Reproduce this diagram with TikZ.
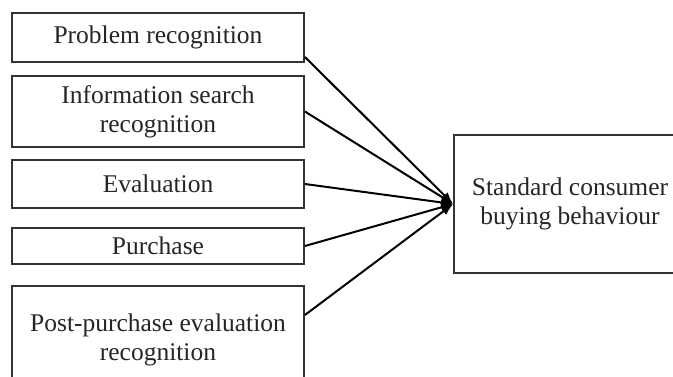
\documentclass[tikz,border=0pt]{standalone}
\usepackage{fontspec}
\setmainfont{Liberation Serif}
\usetikzlibrary{arrows.meta}
\begin{document}
\begin{tikzpicture}[x=1pt,y=-1pt,
  stage/.style={draw=black!80, line width=1.8pt, minimum width=292pt, align=center, inner sep=0pt,
    font=\fontsize{25.5}{29}\selectfont, text=black!85},
  link/.style={line width=2pt, -{Latex[length=12pt,width=9pt]}}]
\useasboundingbox (0,0) rectangle (673,376);
\clip (0,0) rectangle (673,376);
\fill[white] (0,0) rectangle (673,376);
\node[stage, minimum height=49pt] (b1) at (158,37.5) {Problem recognition};
\node[stage, minimum height=71pt] (b2) at (158,111.5) {Information search\\recognition};
\node[stage, minimum height=48pt] (b3) at (158,184) {Evaluation};
\node[stage, minimum height=36pt] (b4) at (158,246) {Purchase};
\node[stage, minimum height=108pt] (b5) at (158,340) {Post-purchase evaluation\\recognition};
\node[stage, minimum width=232pt, minimum height=138pt] (out) at (570,204) {Standard consumer\\buying behaviour};
\coordinate (s1) at ([yshift=-19.5pt]b1.east);
\coordinate (s5) at ([yshift=25pt]b5.east);
\draw[link] (s1) -- (out.west);
\draw[link] (b2.east) -- (out.west);
\draw[link] (b3.east) -- (out.west);
\draw[link] (b4.east) -- (out.west);
\draw[link] (s5) -- (out.west);
\end{tikzpicture}
\end{document}
